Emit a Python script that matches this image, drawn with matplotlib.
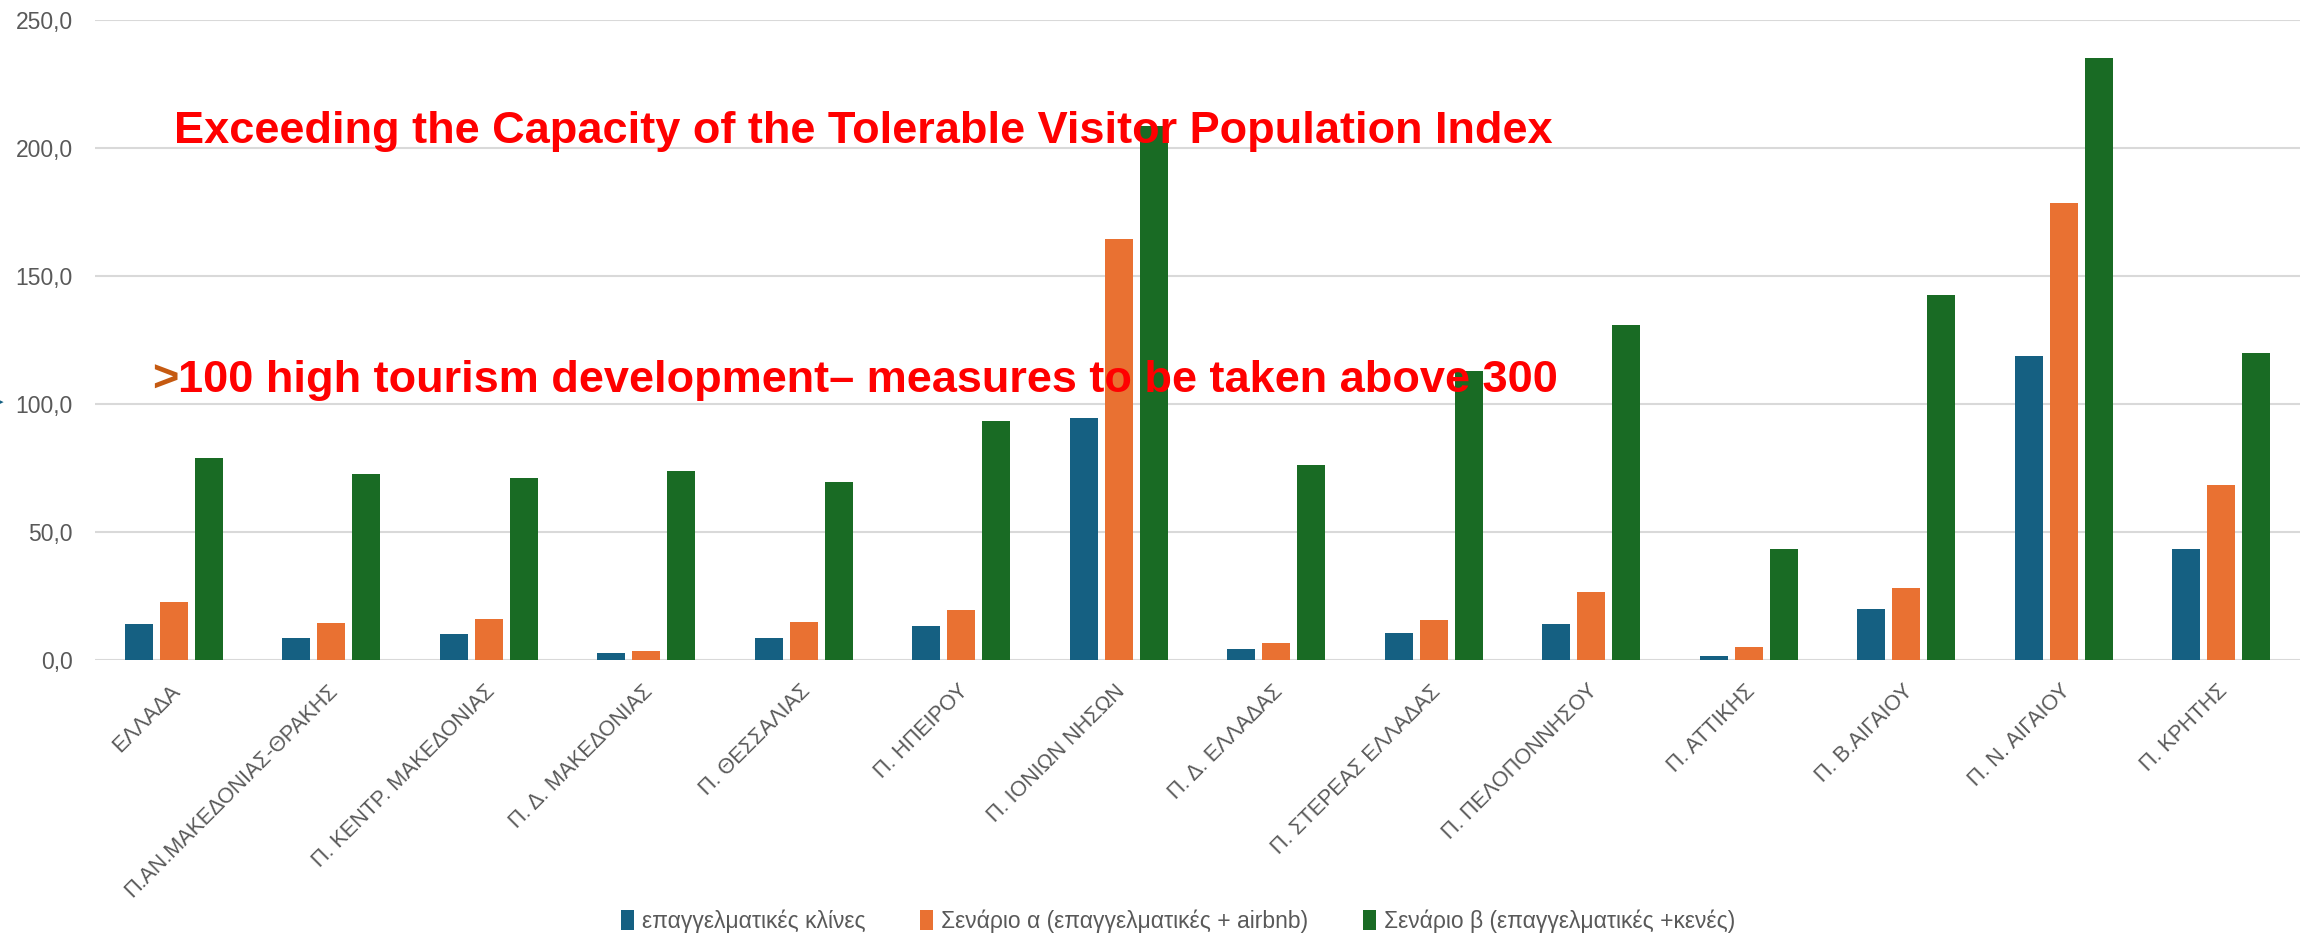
import matplotlib
matplotlib.use('Agg')
import matplotlib.pyplot as plt
import matplotlib.transforms as mtrans
import matplotlib.ticker as mtick
import numpy as np

plt.rcParams['font.family'] = ['Liberation Sans', 'DejaVu Sans']

# Regions (x axis)
regions = [
    'ΕΛΛΑΔΑ', 'Π.ΑΝ.ΜΑΚΕΔΟΝΙΑΣ-ΘΡΑΚΗΣ', 'Π. ΚΕΝΤΡ. ΜΑΚΕΔΟΝΙΑΣ', 'Π. Δ. ΜΑΚΕΔΟΝΙΑΣ',
    'Π. ΘΕΣΣΑΛΙΑΣ', 'Π. ΗΠΕΙΡΟΥ', 'Π. ΙΟΝΙΩΝ ΝΗΣΩΝ', 'Π. Δ. ΕΛΛΑΔΑΣ',
    'Π. ΣΤΕΡΕΑΣ ΕΛΛΑΔΑΣ', 'Π. ΠΕΛΟΠΟΝΝΗΣΟΥ', 'Π. ΑΤΤΙΚΗΣ', 'Π. Β.ΑΙΓΑΙΟΥ',
    'Π. Ν. ΑΙΓΑΙΟΥ', 'Π. ΚΡΗΤΗΣ',
]

# Index values
beds = [14.0, 8.4, 10.0, 2.7, 8.7, 13.1, 94.5, 4.2, 10.5, 14.1, 1.7, 19.9, 118.7, 43.2]
scen_a = [22.8, 14.4, 16.0, 3.6, 14.8, 19.4, 164.4, 6.8, 15.5, 26.5, 4.9, 28.2, 178.5, 68.3]
scen_b = [79.0, 72.7, 71.0, 73.9, 69.6, 93.4, 208.3, 76.0, 113.0, 130.8, 43.2, 142.3, 235.2, 119.8]

series_names = [
    'επαγγελματικές κλίνες',
    'Σενάριο α (επαγγελματικές + airbnb)',
    'Σενάριο β (επαγγελματικές +κενές)',
]
colors = ['#156082', '#E97132', '#196B24']

W, H = 2311, 936
fig = plt.figure(figsize=(W / 100, H / 100), dpi=100)
ax = fig.add_axes([95 / W, 1 - 660 / H, (2300 - 95) / W, (660 - 19.6) / H])

x = np.arange(len(regions))
bw = 0.178
step = 0.222
handles = []
for i, (vals, name, c) in enumerate(zip([beds, scen_a, scen_b], series_names, colors)):
    h = ax.bar(x + (i - 1) * step, vals, bw, color=c, label=name, zorder=3)
    handles.append(h)

ax.set_xlim(-0.5, len(regions) - 0.5)
ax.set_ylim(0, 250)
ax.set_yticks(np.arange(0, 251, 50))
ax.yaxis.set_major_formatter(mtick.FuncFormatter(lambda v, p: f'{v:.1f}'.replace('.', ',')))
ax.grid(axis='y', color='#d9d9d9', lw=1.5, zorder=0)
for s in ax.spines.values():
    s.set_visible(False)
ax.tick_params(axis='y', length=0, pad=16, labelsize=16.5, labelcolor='#595959')
ax.tick_params(axis='x', length=0, pad=15, labelsize=15.5, labelcolor='#595959')

ax.set_xticks(x)
ax.set_xticklabels(regions, rotation=45, ha='right', va='top', rotation_mode='anchor')
shift = mtrans.ScaledTranslation(-4 / 100, 0, fig.dpi_scale_trans)
for lbl in ax.get_xticklabels():
    lbl.set_transform(lbl.get_transform() + shift)

# Annotations
ax.text(0.0, 201.8, 'Exceeding the Capacity of the Tolerable Visitor Population Index',
        color='#FF0000', fontsize=32.5, fontweight='bold', va='baseline', ha='left',
        transform=mtrans.blended_transform_factory(
            ax.transAxes + mtrans.ScaledTranslation((174 - 95) / 100, 0, fig.dpi_scale_trans),
            ax.transData), zorder=5)
gt = ax.text(0.0, 104.7, '>', color='#C55A11', fontsize=32.5, fontweight='bold',
             va='baseline', ha='left',
             transform=mtrans.blended_transform_factory(
                 ax.transAxes + mtrans.ScaledTranslation((152 - 95) / 100, 0, fig.dpi_scale_trans),
                 ax.transData), zorder=5)
ax.annotate('100 high tourism development– measures to be taken above 300',
            xy=(1, 0), xycoords=gt, va='bottom', ha='left',
            color='#FF0000', fontsize=32.5, fontweight='bold', zorder=5)

# small marker at the left edge
fig.text(0.0, 1 - 402 / H, '▸', color='#156082', fontsize=11, ha='center', va='center')

fig.legend(handles=handles, labels=series_names, loc='center', ncol=3,
           bbox_to_anchor=(1178 / W, 1 - 921 / H), frameon=False, fontsize=16.5,
           labelcolor='#595959', handlelength=0.55, handleheight=1.0,
           handletextpad=0.35, columnspacing=2.4)

fig.savefig('out.png', dpi=100)
